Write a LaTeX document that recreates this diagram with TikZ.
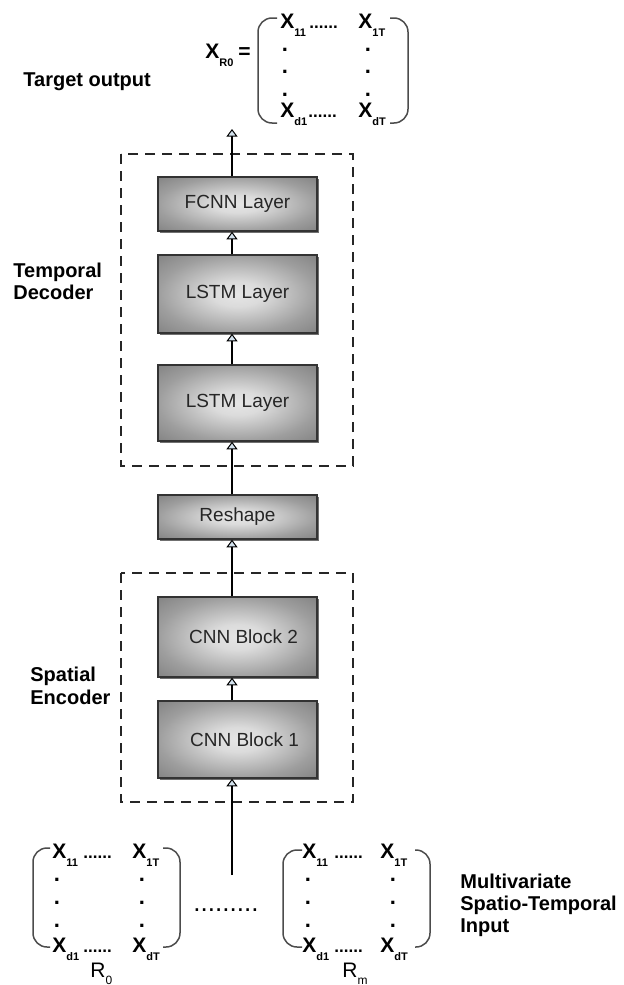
\documentclass[tikz,border=0pt]{standalone}
\usepackage{fontspec}
\setmainfont{Liberation Sans}
\usetikzlibrary{arrows.meta,shadows}
\definecolor{tipfill}{HTML}{D3E2EE}
\pgfdeclareradialshading{boxshade}{\pgfpoint{0bp}{0bp}}{color(0bp)=(black!10); color(8bp)=(black!14); color(25bp)=(black!38); color(35bp)=(black!48); color(50bp)=(black!50)}
\newcommand{\Xs}[1]{{\fontsize{10.5}{12}\selectfont\bfseries X}\raisebox{-4pt}{\fontsize{5.5}{6}\selectfont\bfseries #1}}
\newcommand{\Rs}[1]{{\fontsize{10.5}{12}\selectfont R}\raisebox{-3.5pt}{\fontsize{6}{7}\selectfont #1}}
\begin{document}
\begin{tikzpicture}[x=0.5pt,y=-0.5pt,
  layer/.style={draw=black!80, line width=0.7pt, minimum width=79.5pt, inner sep=0pt,
    shading=boxshade,
    drop shadow={shadow xshift=0.8pt, shadow yshift=-0.8pt, fill=black!70, opacity=0.8},
    font=\fontsize{9.5}{11}\selectfont, text=black!85},
  arr/.style={line width=1.1pt, -{Triangle[width=5.5pt,length=3.8pt,line width=0.5pt,fill=tipfill]}},
  dashbox/.style={line width=1.4pt, dash pattern=on 5pt off 3.5pt, draw=black!85},
  lbl/.style={font=\fontsize{10}{11}\selectfont\bfseries, align=left, inner sep=0pt},
  mx/.style={inner sep=0pt, anchor=base west},
  brk/.style={draw=black!70, line width=0.75pt, rounded corners=7pt},
  hdots/.style={inner sep=0pt, anchor=base west, font=\fontsize{8.5}{10}\selectfont\bfseries},
  vdot/.style={inner sep=0pt, font=\fontsize{11}{11}\selectfont\bfseries},
]
\useasboundingbox (0,0) rectangle (623,985);

% axis for connectors
\coordinate (ax) at (232,0);
\coordinate (outtip) at (232,129);
\coordinate (intail) at (232,875);

% dashed groups
\draw[dashbox] (121,154) rectangle (353,466);
\draw[dashbox] (121,573) rectangle (353,802);

% layers
\node[layer, minimum height=27pt] (fcnn) at (237.5,204) {FCNN Layer};
\node[layer, minimum height=39pt] (lstm1) at (237.5,294) {LSTM Layer};
\node[layer, minimum height=38pt] (lstm2) at (237.5,403) {LSTM Layer};
\node[layer, minimum height=22pt] (reshape) at (237.5,517) {Reshape};
\node[layer, minimum height=40pt] (cnn2) at (237.5,637) {\hspace*{6pt}CNN Block 2};
\node[layer, minimum height=38.5pt] (cnn1) at (237.5,739.5) {\hspace*{7pt}CNN Block 1};

% connectors
\draw[arr] (fcnn.north -| ax) -- (outtip);
\draw[arr] (lstm1.north -| ax) -- (fcnn.south -| ax);
\draw[arr] (lstm2.north -| ax) -- (lstm1.south -| ax);
\draw[arr] (reshape.north -| ax) -- (lstm2.south -| ax);
\draw[arr] (cnn2.north -| ax) -- (reshape.south -| ax);
\draw[arr] (cnn1.north -| ax) -- (cnn2.south -| ax);
\draw[arr] (intail) -- (cnn1.south -| ax);

% side labels
\node[lbl, anchor=base west] (tgt) at (23,86) {Target output};
\node[lbl, anchor=west] (tdec) at (13,281) {Temporal\\Decoder};
\node[lbl, anchor=west, font=\fontsize{10}{11.5}\selectfont\bfseries] (senc) at (30,686) {Spatial\\Encoder};
\node[lbl, anchor=west] (msti) at (460,905) {Multivariate\\Spatio-Temporal\\Input};

% output matrix
\node[mx] (xr0) at (205,58) {\Xs{R0}\hspace{2.5pt}{\fontsize{10.5}{12}\selectfont\bfseries =}};
\draw[brk] (277,18) -- (258,18) -- (258,123) -- (277,123);
\draw[brk] (390,18) -- (408,18) -- (408,123) -- (390,123);
\node[mx] (o11) at (280,28) {\Xs{11}};
\node[mx] (o1T) at (358,28) {\Xs{1T}};
\node[mx] (od1) at (280,117) {\Xs{d1}};
\node[mx] (odT) at (358,117) {\Xs{dT}};
\node[hdots] (oh1) at (309,28) {......};
\node[hdots] (oh2) at (308,117) {......};
\node[vdot] (ov1) at (285,50) {.};
\node[vdot] (ov2) at (285,72) {.};
\node[vdot] (ov3) at (285,95) {.};
\node[vdot] (ov4) at (368,50) {.};
\node[vdot] (ov5) at (368,72) {.};
\node[vdot] (ov6) at (368,95) {.};

% input matrix R0
\draw[brk] (50,848) -- (33,848) -- (33,947) -- (50,947);
\draw[brk] (163,848) -- (180,848) -- (180,947) -- (163,947);
\node[mx] (a11) at (52,858) {\Xs{11}};
\node[mx] (a1T) at (132,858) {\Xs{1T}};
\node[mx] (ad1) at (52,952) {\Xs{d1}};
\node[mx] (adT) at (132,952) {\Xs{dT}};
\node[hdots] (ah1) at (83,858) {......};
\node[hdots] (ah2) at (83,952) {......};
\node[vdot] (av1) at (57,880) {.};
\node[vdot] (av2) at (57,903) {.};
\node[vdot] (av3) at (57,926) {.};
\node[vdot] (av4) at (142,880) {.};
\node[vdot] (av5) at (142,903) {.};
\node[vdot] (av6) at (142,926) {.};
\node[mx] (r0) at (90,977) {\Rs{0}};

% middle dots
\node[inner sep=0pt, font=\fontsize{13}{13}\selectfont] (mid) at (226,910) {.........};

% input matrix Rm
\draw[brk] (302,850) -- (283,850) -- (283,947) -- (302,947);
\draw[brk] (415,850) -- (430,850) -- (430,947) -- (415,947);
\node[mx] (b11) at (302,858) {\Xs{11}};
\node[mx] (b1T) at (380,858) {\Xs{1T}};
\node[mx] (bd1) at (302,952) {\Xs{d1}};
\node[mx] (bdT) at (380,952) {\Xs{dT}};
\node[hdots] (bh1) at (334,858) {......};
\node[hdots] (bh2) at (334,952) {......};
\node[vdot] (bv1) at (308,880) {.};
\node[vdot] (bv2) at (308,903) {.};
\node[vdot] (bv3) at (308,926) {.};
\node[vdot] (bv4) at (393,880) {.};
\node[vdot] (bv5) at (393,903) {.};
\node[vdot] (bv6) at (393,926) {.};
\node[mx] (rm) at (342,977) {\Rs{m}};
\end{tikzpicture}
\end{document}
